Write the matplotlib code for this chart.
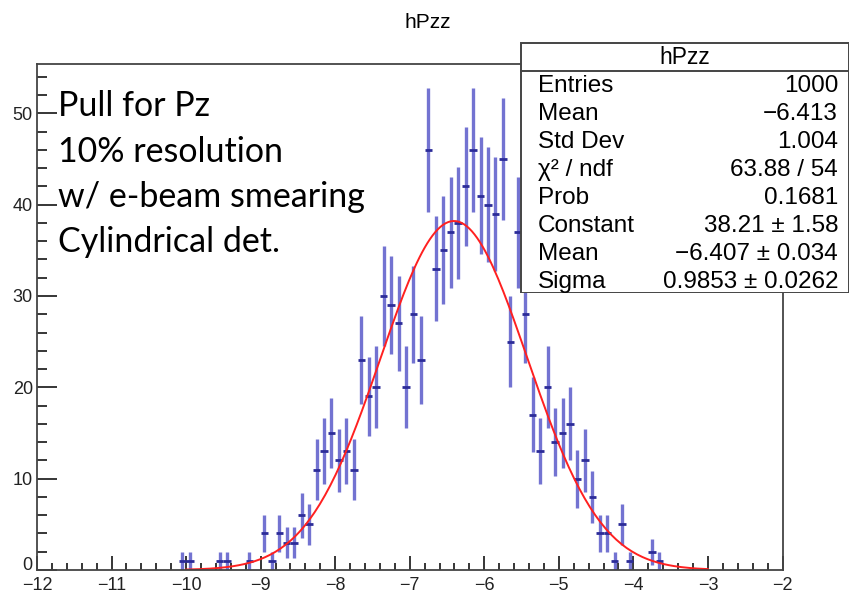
import numpy as np
import matplotlib
matplotlib.use("Agg")
import matplotlib.pyplot as plt
from matplotlib.ticker import MultipleLocator, FuncFormatter
from matplotlib.patches import Rectangle

# histogram hPzz: 100 bins from -12 to -2, only the filled stretch is listed
x_min, x_max, bin_width = -12.0, -2.0, 0.1
first_bin = 19  # bin [-10.1, -10.0)
counts = [1, 1, 0, 0, 0, 1, 1, 0, 0, 1,
          0, 4, 1, 4, 3, 3, 6, 5, 11, 13,
          15, 12, 13, 11, 23, 19, 20, 30, 29, 27,
          20, 28, 23, 46, 33, 35, 37, 38, 42, 46,
          41, 40, 39, 45, 25, 37, 28, 17, 13, 20,
          14, 15, 16, 10, 12, 8, 4, 4, 1, 5,
          1, 0, 0, 2, 1]

# gaussian fit result
fit_const, fit_mean, fit_sigma = 38.21, -6.407, 0.9853
fit_range = (-10.0, -3.0)

stats_labels = ["Entries", "Mean", "Std Dev", "χ² / ndf", "Prob",
                "Constant", "Mean", "Sigma"]
stats_values = ["1000", "−6.413", "1.004", "63.88 / 54", "0.1681",
                "38.21 ± 1.58", "−6.407 ± 0.034", "0.9853 ± 0.0262"]

notes = ["Pull for Pz", "10% resolution", "w/ e-beam smearing", "Cylindrical det."]

root_font = ["Liberation Sans", "DejaVu Sans"]
note_font = ["Lato", "DejaVu Sans"]

fig = plt.figure(figsize=(8.55, 5.98), dpi=100)
ax = fig.add_axes([37 / 855, 1 - 570 / 598, (782.5 - 37) / 855, (570 - 64) / 598])

counts = np.array(counts, dtype=float)
centers = x_min + (np.arange(first_bin, first_bin + len(counts)) + 0.5) * bin_width
filled = counts > 0
xc = centers[filled]
yc = counts[filled]
err = np.sqrt(yc)

# vertical error bars (light), then bin-width bars (dark)
ax.errorbar(xc, yc, yerr=err, fmt="none", ecolor="#6464cc", elinewidth=2.4, capsize=0, alpha=0.9)
ax.errorbar(xc, yc, xerr=bin_width / 2, fmt="none", ecolor="#2c2c98", elinewidth=2.0, capsize=0)

xf = np.linspace(fit_range[0], fit_range[1], 200)
ax.plot(xf, fit_const * np.exp(-0.5 * ((xf - fit_mean) / fit_sigma) ** 2), color="#ff2020", lw=1.4)

ax.set_xlim(x_min, x_max)
ax.set_ylim(0, 55.4)
ax.xaxis.set_major_locator(MultipleLocator(1))
ax.xaxis.set_minor_locator(MultipleLocator(0.2))
ax.yaxis.set_major_locator(MultipleLocator(10))
ax.yaxis.set_minor_locator(MultipleLocator(2))
# the "0" label is drawn separately below, a bit higher, so it clears "-12"
ax.yaxis.set_major_formatter(FuncFormatter(lambda v, p: "" if v == 0 else f"{v:.0f}"))
ax.tick_params(axis="x", which="major", direction="in", length=10, width=1.1, pad=5, labelsize=13)
ax.tick_params(axis="x", which="minor", direction="in", length=5, width=1.1)
ax.tick_params(axis="y", which="major", direction="in", length=14.5, width=1.1, pad=3, labelsize=13)
ax.tick_params(axis="y", which="minor", direction="in", length=7, width=1.1)
for lab in ax.get_xticklabels() + ax.get_yticklabels():
    lab.set_family(root_font)
    lab.set_color("#222222")
for sp in ax.spines.values():
    sp.set_linewidth(1.3)
    sp.set_color("#444444")
ax.annotate("0", xy=(0, 0), xycoords="axes fraction", xytext=(-3, 3), textcoords="offset points",
            ha="right", va="center", family=root_font, fontsize=13, color="#222222")

fig.text(0.5, 1 - 22 / 598, "hPzz", ha="center", va="center", family=root_font, fontsize=15)

for i, line in enumerate(notes):
    fig.text(58 / 855, 1 - (106 + i * 45.5) / 598, line, ha="left", va="center",
             family=note_font, fontsize=24.5)

# stats box
bx0, bx1 = 520 / 855, 849 / 855
by_top, by_bot = 1 - 42 / 598, 1 - 293 / 598
sax = fig.add_axes([bx0, by_bot, bx1 - bx0, by_top - by_bot])
sax.set_xlim(520, 849)
sax.set_ylim(293, 42)
sax.axis("off")
sax.add_patch(Rectangle((520.5, 42.5), 328, 250, facecolor="white", edgecolor="#444444", lw=1.4))
sax.plot([520.5, 848.5], [71, 71], color="#444444", lw=1.4)
sax.text(685, 57, "hPzz", ha="center", va="center", family=root_font, fontsize=16.5)
for i, (lab, val) in enumerate(zip(stats_labels, stats_values)):
    y = 86 + i * 28
    sax.text(538, y, lab, ha="left", va="center", family=root_font, fontsize=17.5)
    sax.text(838, y, val, ha="right", va="center", family=root_font, fontsize=17.5)

fig.savefig("out.png", dpi=100)
